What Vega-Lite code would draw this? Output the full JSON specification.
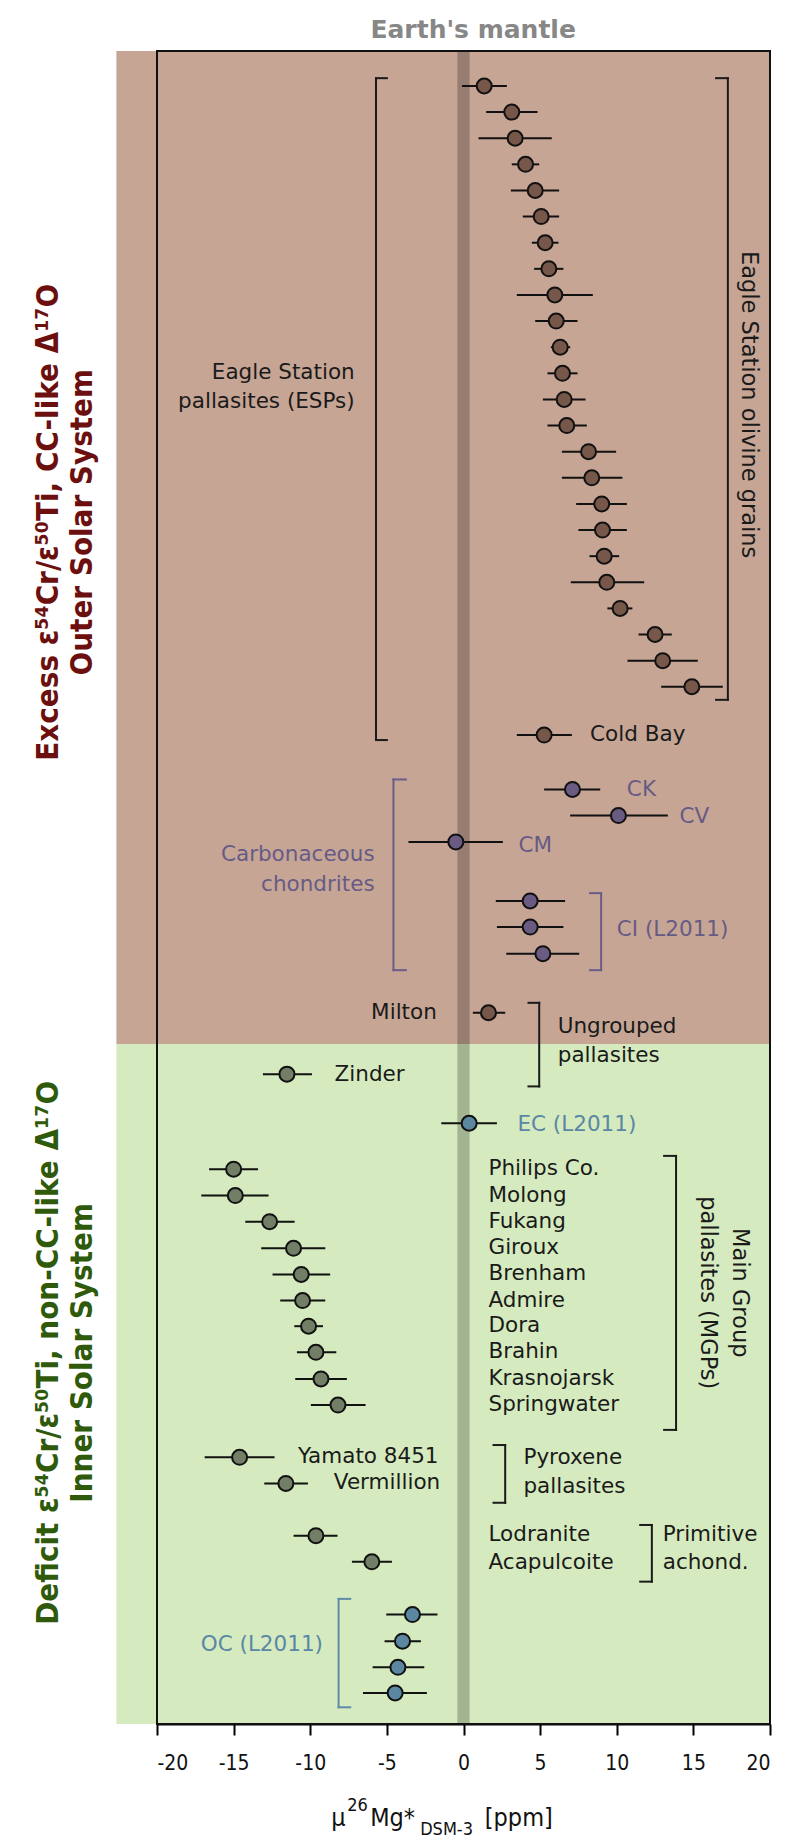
{
  "$schema": "https://vega.github.io/schema/vega-lite/v6.json",
  "width": 613,
  "height": 1673,
  "autosize": {"type": "none"},
  "padding": {"left": 157, "top": 51, "right": 30, "bottom": 121},
  "background": "white",
  "config": {"view": {"stroke": null}, "font": "DejaVu Sans"},
  "datasets": {
    "regions": [
      {"region": "outer", "x": -22.65, "x2": 20, "y": -1.34, "y2": 36.68},
      {"region": "inner", "x": -22.65, "x2": 20, "y": 36.68, "y2": 62.71}
    ],
    "band": [{"x": -0.4, "x2": 0.4, "y": -1.34, "y2": 62.71}],
    "points": [
      {"name": "ESP 1", "grp": "outer", "y": 0, "x": 1.35, "lo": -0.1, "hi": 2.83},
      {"name": "ESP 2", "grp": "outer", "y": 1, "x": 3.15, "lo": 1.48, "hi": 4.83},
      {"name": "ESP 3", "grp": "outer", "y": 2, "x": 3.37, "lo": 0.98, "hi": 5.76},
      {"name": "ESP 4", "grp": "outer", "y": 3, "x": 4.05, "lo": 3.15, "hi": 4.94},
      {"name": "ESP 5", "grp": "outer", "y": 4, "x": 4.68, "lo": 3.09, "hi": 6.24},
      {"name": "ESP 6", "grp": "outer", "y": 5, "x": 5.07, "lo": 3.87, "hi": 6.24},
      {"name": "ESP 7", "grp": "outer", "y": 6, "x": 5.33, "lo": 4.46, "hi": 6.2},
      {"name": "ESP 8", "grp": "outer", "y": 7, "x": 5.57, "lo": 4.61, "hi": 6.52},
      {"name": "ESP 9", "grp": "outer", "y": 8, "x": 5.96, "lo": 3.48, "hi": 8.44},
      {"name": "ESP 10", "grp": "outer", "y": 9, "x": 6.05, "lo": 4.68, "hi": 7.44},
      {"name": "ESP 11", "grp": "outer", "y": 10, "x": 6.31, "lo": 5.7, "hi": 6.96},
      {"name": "ESP 12", "grp": "outer", "y": 11, "x": 6.46, "lo": 5.48, "hi": 7.44},
      {"name": "ESP 13", "grp": "outer", "y": 12, "x": 6.57, "lo": 5.18, "hi": 7.96},
      {"name": "ESP 14", "grp": "outer", "y": 13, "x": 6.74, "lo": 5.48, "hi": 8.05},
      {"name": "ESP 15", "grp": "outer", "y": 14, "x": 8.16, "lo": 6.42, "hi": 9.96},
      {"name": "ESP 16", "grp": "outer", "y": 15, "x": 8.37, "lo": 6.42, "hi": 10.37},
      {"name": "ESP 17", "grp": "outer", "y": 16, "x": 9.02, "lo": 7.35, "hi": 10.66},
      {"name": "ESP 18", "grp": "outer", "y": 17, "x": 9.07, "lo": 7.5, "hi": 10.66},
      {"name": "ESP 19", "grp": "outer", "y": 18, "x": 9.18, "lo": 8.22, "hi": 10.16},
      {"name": "ESP 20", "grp": "outer", "y": 19, "x": 9.35, "lo": 7.0, "hi": 11.79},
      {"name": "ESP 21", "grp": "outer", "y": 20, "x": 10.22, "lo": 9.39, "hi": 11.02},
      {"name": "ESP 22", "grp": "outer", "y": 21, "x": 12.5, "lo": 11.42, "hi": 13.59},
      {"name": "ESP 23", "grp": "outer", "y": 22, "x": 13.0, "lo": 10.7, "hi": 15.29},
      {"name": "ESP 24", "grp": "outer", "y": 23, "x": 14.9, "lo": 12.9, "hi": 16.92},
      {"name": "Cold Bay", "grp": "outer", "y": 24.85, "x": 5.26, "lo": 3.48, "hi": 7.07},
      {"name": "CK", "grp": "cc", "y": 26.93, "x": 7.11, "lo": 5.26, "hi": 8.92},
      {"name": "CV", "grp": "cc", "y": 27.93, "x": 10.11, "lo": 6.96, "hi": 13.33},
      {"name": "CM", "grp": "cc", "y": 28.94, "x": -0.5, "lo": -3.59, "hi": 2.57},
      {"name": "CI 1", "grp": "cc", "y": 31.2, "x": 4.35, "lo": 2.11, "hi": 6.63},
      {"name": "CI 2", "grp": "cc", "y": 32.2, "x": 4.35, "lo": 2.18, "hi": 6.52},
      {"name": "CI 3", "grp": "cc", "y": 33.22, "x": 5.18, "lo": 2.79, "hi": 7.55},
      {"name": "Milton", "grp": "outer", "y": 35.48, "x": 1.63, "lo": 0.61, "hi": 2.72},
      {"name": "Zinder", "grp": "inner", "y": 37.83, "x": -11.52, "lo": -13.09, "hi": -9.89},
      {"name": "EC", "grp": "ref", "y": 39.71, "x": 0.37, "lo": -1.45, "hi": 2.18},
      {"name": "Philips Co.", "grp": "inner", "y": 41.47, "x": -15.0, "lo": -16.6, "hi": -13.41},
      {"name": "Molong", "grp": "inner", "y": 42.48, "x": -14.89, "lo": -17.11, "hi": -12.72},
      {"name": "Fukang", "grp": "inner", "y": 43.48, "x": -12.65, "lo": -14.24, "hi": -11.02},
      {"name": "Giroux", "grp": "inner", "y": 44.5, "x": -11.09, "lo": -13.2, "hi": -9.02},
      {"name": "Brenham", "grp": "inner", "y": 45.5, "x": -10.59, "lo": -12.46, "hi": -8.7},
      {"name": "Admire", "grp": "inner", "y": 46.5, "x": -10.5, "lo": -11.96, "hi": -9.02},
      {"name": "Dora", "grp": "inner", "y": 47.48, "x": -10.11, "lo": -11.04, "hi": -9.17},
      {"name": "Brahin", "grp": "inner", "y": 48.48, "x": -9.63, "lo": -10.87, "hi": -8.3},
      {"name": "Krasnojarsk", "grp": "inner", "y": 49.5, "x": -9.3, "lo": -10.98, "hi": -7.61},
      {"name": "Springwater", "grp": "inner", "y": 50.5, "x": -8.19, "lo": -9.96, "hi": -6.39},
      {"name": "Yamato 8451", "grp": "inner", "y": 52.5, "x": -14.61, "lo": -16.89, "hi": -12.33},
      {"name": "Vermillion", "grp": "inner", "y": 53.5, "x": -11.59, "lo": -13.0, "hi": -10.15},
      {"name": "Lodranite", "grp": "inner", "y": 55.5, "x": -9.63, "lo": -11.09, "hi": -8.22},
      {"name": "Acapulcoite", "grp": "inner", "y": 56.5, "x": -5.98, "lo": -7.28, "hi": -4.67},
      {"name": "OC 1", "grp": "ref", "y": 58.52, "x": -3.33, "lo": -5.04, "hi": -1.7},
      {"name": "OC 2", "grp": "ref", "y": 59.54, "x": -3.98, "lo": -5.15, "hi": -2.78},
      {"name": "OC 3", "grp": "ref", "y": 60.54, "x": -4.28, "lo": -5.93, "hi": -2.56},
      {"name": "OC 4", "grp": "ref", "y": 61.52, "x": -4.46, "lo": -6.56, "hi": -2.39}
    ],
    "brackets": [
      {"grp": "black", "x": -5.71, "x2": -5.71, "y": -0.3, "y2": 25.04},
      {"grp": "black", "x": -5.71, "x2": -5.0, "y": -0.3, "y2": -0.3},
      {"grp": "black", "x": -5.71, "x2": -5.0, "y": 25.04, "y2": 25.04},
      {"grp": "black", "x": 17.25, "x2": 17.25, "y": -0.3, "y2": 23.5},
      {"grp": "black", "x": 16.48, "x2": 17.25, "y": -0.3, "y2": -0.3},
      {"grp": "black", "x": 16.48, "x2": 17.25, "y": 23.5, "y2": 23.5},
      {"grp": "cc", "x": -4.57, "x2": -4.57, "y": 26.55, "y2": 33.85},
      {"grp": "cc", "x": -4.57, "x2": -3.76, "y": 26.55, "y2": 26.55},
      {"grp": "cc", "x": -4.57, "x2": -3.76, "y": 33.85, "y2": 33.85},
      {"grp": "cc", "x": 8.98, "x2": 8.98, "y": 30.9, "y2": 33.85},
      {"grp": "cc", "x": 8.26, "x2": 8.98, "y": 30.9, "y2": 30.9},
      {"grp": "cc", "x": 8.26, "x2": 8.98, "y": 33.85, "y2": 33.85},
      {"grp": "black", "x": 4.94, "x2": 4.94, "y": 35.1, "y2": 38.3},
      {"grp": "black", "x": 4.24, "x2": 4.94, "y": 35.1, "y2": 35.1},
      {"grp": "black", "x": 4.24, "x2": 4.94, "y": 38.3, "y2": 38.3},
      {"grp": "black", "x": 13.87, "x2": 13.87, "y": 40.96, "y2": 51.45},
      {"grp": "black", "x": 13.09, "x2": 13.87, "y": 40.96, "y2": 40.96},
      {"grp": "black", "x": 13.09, "x2": 13.87, "y": 51.45, "y2": 51.45},
      {"grp": "black", "x": 2.72, "x2": 2.72, "y": 52.03, "y2": 54.24},
      {"grp": "black", "x": 1.96, "x2": 2.72, "y": 52.03, "y2": 52.03},
      {"grp": "black", "x": 1.96, "x2": 2.72, "y": 54.24, "y2": 54.24},
      {"grp": "black", "x": 12.29, "x2": 12.29, "y": 55.09, "y2": 57.26},
      {"grp": "black", "x": 11.53, "x2": 12.29, "y": 55.09, "y2": 55.09},
      {"grp": "black", "x": 11.53, "x2": 12.29, "y": 57.26, "y2": 57.26},
      {"grp": "ref", "x": -8.15, "x2": -8.15, "y": 57.92, "y2": 62.07},
      {"grp": "ref", "x": -8.15, "x2": -7.39, "y": 57.92, "y2": 57.92},
      {"grp": "ref", "x": -8.15, "x2": -7.39, "y": 62.07, "y2": 62.07}
    ],
    "labels": [
      {"text": "Cold Bay", "grp": "black", "anchor": "start", "x": 8.26, "y": 24.85},
      {"text": "Zinder", "grp": "black", "anchor": "start", "x": -8.41, "y": 37.85},
      {"text": "Ungrouped", "grp": "black", "anchor": "start", "x": 6.15, "y": 36.03},
      {"text": "pallasites", "grp": "black", "anchor": "start", "x": 6.15, "y": 37.15},
      {"text": "Philips Co.", "grp": "black", "anchor": "start", "x": 1.63, "y": 41.47},
      {"text": "Molong", "grp": "black", "anchor": "start", "x": 1.63, "y": 42.48},
      {"text": "Fukang", "grp": "black", "anchor": "start", "x": 1.63, "y": 43.48},
      {"text": "Giroux", "grp": "black", "anchor": "start", "x": 1.63, "y": 44.5},
      {"text": "Brenham", "grp": "black", "anchor": "start", "x": 1.63, "y": 45.5},
      {"text": "Admire", "grp": "black", "anchor": "start", "x": 1.63, "y": 46.5},
      {"text": "Dora", "grp": "black", "anchor": "start", "x": 1.63, "y": 47.48},
      {"text": "Brahin", "grp": "black", "anchor": "start", "x": 1.63, "y": 48.48},
      {"text": "Krasnojarsk", "grp": "black", "anchor": "start", "x": 1.63, "y": 49.5},
      {"text": "Springwater", "grp": "black", "anchor": "start", "x": 1.63, "y": 50.5},
      {"text": "Pyroxene", "grp": "black", "anchor": "start", "x": 3.91, "y": 52.54},
      {"text": "pallasites", "grp": "black", "anchor": "start", "x": 3.91, "y": 53.63},
      {"text": "Lodranite", "grp": "black", "anchor": "start", "x": 1.63, "y": 55.47},
      {"text": "Acapulcoite", "grp": "black", "anchor": "start", "x": 1.63, "y": 56.56},
      {"text": "Primitive", "grp": "black", "anchor": "start", "x": 13.0, "y": 55.47},
      {"text": "achond.", "grp": "black", "anchor": "start", "x": 13.0, "y": 56.56},
      {"text": "CK", "grp": "cc", "anchor": "start", "x": 10.66, "y": 26.97},
      {"text": "CV", "grp": "cc", "anchor": "start", "x": 14.09, "y": 28.0},
      {"text": "CM", "grp": "cc", "anchor": "start", "x": 3.59, "y": 29.1},
      {"text": "CI (L2011)", "grp": "cc", "anchor": "start", "x": 10.0, "y": 32.3},
      {"text": "EC (L2011)", "grp": "ref", "anchor": "start", "x": 3.52, "y": 39.78},
      {"text": "Eagle Station", "grp": "black", "anchor": "end", "x": -7.1, "y": 11.0},
      {"text": "pallasites (ESPs)", "grp": "black", "anchor": "end", "x": -7.1, "y": 12.1},
      {"text": "Milton", "grp": "black", "anchor": "end", "x": -1.74, "y": 35.5},
      {"text": "Yamato 8451", "grp": "black", "anchor": "end", "x": -1.63, "y": 52.5},
      {"text": "Vermillion", "grp": "black", "anchor": "end", "x": -1.52, "y": 53.5},
      {"text": "Carbonaceous", "grp": "cc", "anchor": "end", "x": -5.8, "y": 29.44},
      {"text": "chondrites", "grp": "cc", "anchor": "end", "x": -5.8, "y": 30.59},
      {"text": "OC (L2011)", "grp": "ref", "anchor": "end", "x": -9.17, "y": 59.7}
    ],
    "vlabels": [
      {"text": "Eagle Station olivine grains", "x": 18.6, "y": 12.2},
      {"text": "Main Group", "x": 18.05, "y": 46.2},
      {"text": "pallasites (MGPs)", "x": 15.98, "y": 46.2}
    ],
    "sidetitles": [
      {"text": "Excess ε⁵⁴Cr/ε⁵⁰Ti, CC-like Δ¹⁷O", "grp": "outer", "x": -27.05, "y": 16.7},
      {"text": "Outer Solar System", "grp": "outer", "x": -24.85, "y": 16.7},
      {"text": "Deficit ε⁵⁴Cr/ε⁵⁰Ti, non-CC-like Δ¹⁷O", "grp": "inner", "x": -27.05, "y": 48.5},
      {"text": "Inner Solar System", "grp": "inner", "x": -24.85, "y": 48.5}
    ],
    "toptitle": [{"text": "Earth's mantle", "x": 0.63, "y": -2.14}],
    "xtitle": [
      {"part": "main", "text": "μ", "x": -8.63, "y": 66.6},
      {"part": "sup", "text": "26", "x": -7.59, "y": 66.05},
      {"part": "main", "text": "Mg*", "x": -6.09, "y": 66.6},
      {"part": "sub", "text": "DSM-3", "x": -2.83, "y": 66.96},
      {"part": "main", "text": "[ppm]", "x": 1.39, "y": 66.6}
    ]
  },
  "encoding": {
    "x": {
      "field": "x", "type": "quantitative",
      "scale": {"domain": [-20, 20], "nice": false, "zero": false},
      "axis": {
        "values": [-20, -15, -10, -5, 0, 5, 10, 15, 20],
        "labelExpr": "toString(datum.value)",
        "title": null, "grid": false,
        "domainColor": "#000000", "domainWidth": 2,
        "tickColor": "#000000", "tickWidth": 2, "tickSize": 11,
        "labelFontSize": 21, "labelColor": "#111111", "labelPadding": 17,
        "labelFont": "DejaVu Sans Condensed, Liberation Sans Narrow, DejaVu Sans"
      }
    },
    "y": {
      "field": "y", "type": "quantitative",
      "scale": {"domain": [-1.34, 62.71], "reverse": true, "nice": false, "zero": false},
      "axis": null
    }
  },
  "layer": [
    {
      "data": {"name": "regions"},
      "mark": {"type": "rect"},
      "encoding": {
        "x2": {"field": "x2"},
        "y2": {"field": "y2"},
        "fill": {"field": "region", "type": "nominal", "scale": {"domain": ["outer", "inner"], "range": ["#c6a595", "#d5ebbf"]}, "legend": null}
      }
    },
    {
      "data": {"name": "band"},
      "mark": {"type": "rect", "fill": "#000000", "opacity": 0.23},
      "encoding": {"x2": {"field": "x2"}, "y2": {"field": "y2"}}
    },
    {
      "data": {"name": "brackets"},
      "mark": {"type": "rule", "strokeWidth": 2, "strokeCap": "square"},
      "encoding": {
        "x2": {"field": "x2"},
        "y2": {"field": "y2"},
        "stroke": {"field": "grp", "type": "nominal", "scale": {"domain": ["black", "cc", "ref"], "range": ["#1a1a1a", "#6a5e88", "#5f8ba8"]}, "legend": null}
      }
    },
    {
      "data": {"name": "points"},
      "mark": {"type": "rule", "strokeWidth": 2, "color": "#111111"},
      "encoding": {"x": {"field": "lo", "type": "quantitative"}, "x2": {"field": "hi"}}
    },
    {
      "data": {"name": "points"},
      "mark": {"type": "point", "shape": "circle", "filled": true, "size": 225, "stroke": "#111111", "strokeWidth": 2, "opacity": 1},
      "encoding": {
        "fill": {"field": "grp", "type": "nominal", "scale": {"domain": ["outer", "cc", "inner", "ref"], "range": ["#775749", "#6a5b82", "#727f66", "#5b87a1"]}, "legend": null}
      }
    },
    {
      "data": {"name": "labels"},
      "transform": [{"filter": "datum.anchor === 'start'"}],
      "mark": {"type": "text", "align": "left", "baseline": "middle", "fontSize": 21.5, "font": "DejaVu Sans"},
      "encoding": {
        "text": {"field": "text"},
        "color": {"field": "grp", "type": "nominal", "scale": {"domain": ["black", "cc", "ref"], "range": ["#1a1a1a", "#675b85", "#5a87a6"]}, "legend": null}
      }
    },
    {
      "data": {"name": "labels"},
      "transform": [{"filter": "datum.anchor === 'end'"}],
      "mark": {"type": "text", "align": "right", "baseline": "middle", "fontSize": 21.5, "font": "DejaVu Sans"},
      "encoding": {
        "text": {"field": "text"},
        "color": {"field": "grp", "type": "nominal", "scale": {"domain": ["black", "cc", "ref"], "range": ["#1a1a1a", "#675b85", "#5a87a6"]}, "legend": null}
      }
    },
    {
      "data": {"name": "vlabels"},
      "mark": {"type": "text", "align": "center", "baseline": "middle", "angle": 90, "fontSize": 22.5, "font": "DejaVu Sans", "color": "#1a1a1a"},
      "encoding": {"text": {"field": "text"}}
    },
    {
      "data": {"name": "sidetitles"},
      "mark": {"type": "text", "align": "center", "baseline": "middle", "angle": 270, "fontSize": 31, "fontWeight": "bold", "font": "DejaVu Sans Condensed, Liberation Sans Narrow, DejaVu Sans"},
      "encoding": {
        "text": {"field": "text"},
        "color": {"field": "grp", "type": "nominal", "scale": {"domain": ["outer", "inner"], "range": ["#6b0f0f", "#2f5a0c"]}, "legend": null}
      }
    },
    {
      "data": {"name": "toptitle"},
      "mark": {"type": "text", "align": "center", "baseline": "middle", "fontSize": 25, "fontWeight": "bold", "font": "DejaVu Sans", "color": "#878787"},
      "encoding": {"text": {"field": "text"}}
    },
    {
      "data": {"name": "xtitle"},
      "transform": [{"filter": "datum.part === 'main'"}],
      "mark": {"type": "text", "align": "left", "baseline": "alphabetic", "fontSize": 25, "font": "DejaVu Sans Condensed, Liberation Sans Narrow, DejaVu Sans", "color": "#111111"},
      "encoding": {"text": {"field": "text"}}
    },
    {
      "data": {"name": "xtitle"},
      "transform": [{"filter": "datum.part !== 'main'"}],
      "mark": {"type": "text", "align": "left", "baseline": "alphabetic", "fontSize": 18, "font": "DejaVu Sans Condensed, Liberation Sans Narrow, DejaVu Sans", "color": "#111111"},
      "encoding": {"text": {"field": "text"}}
    },
    {
      "data": {"name": "band"},
      "mark": {"type": "rect", "fill": null, "fillOpacity": 0, "stroke": "#111111", "strokeWidth": 2},
      "encoding": {"x": {"datum": -20}, "x2": {"datum": 20}, "y": {"datum": -1.34}, "y2": {"datum": 62.71}}
    }
  ],
  "resolve": {"scale": {"fill": "independent", "color": "independent", "stroke": "independent"}}
}
